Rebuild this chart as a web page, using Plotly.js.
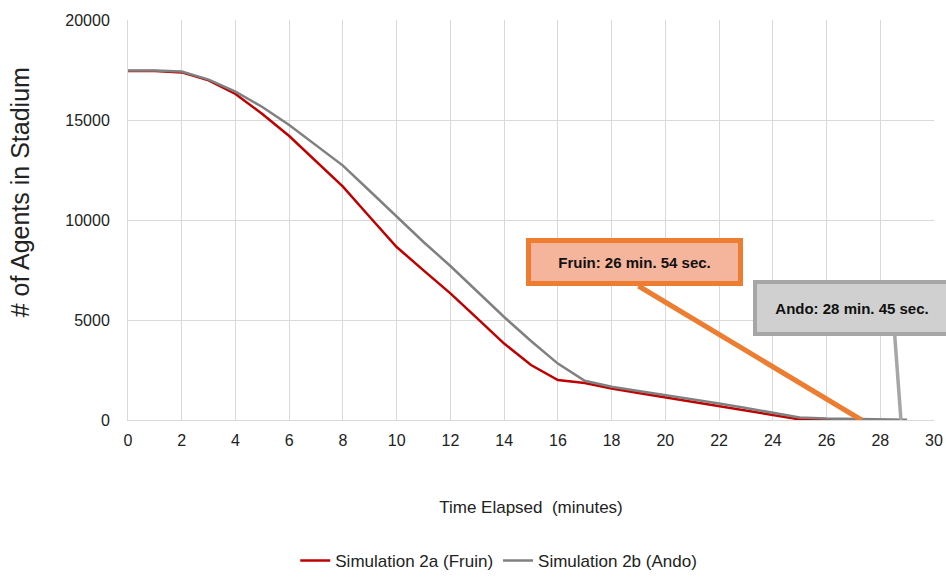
<!DOCTYPE html>
<html>
<head>
<meta charset="utf-8">
<script src="https://cdn.plot.ly/plotly-3.0.1.min.js"></script>
<style>
  html, body { margin: 0; padding: 0; background: #fff; }
  #chart { width: 946px; height: 577px; }
</style>
</head>
<body>
<div id="chart"></div>
<script>
// Time in minutes
const minutesFruin = [0,1,2,3,4,5,6,7,8,9,10,11,12,13,14,15,16,17,18,19,20,21,22,23,24,25,26,27];
const agentsFruin  = [17450,17450,17380,16980,16300,15300,14200,12950,11670,10150,8650,7480,6330,5080,3820,2750,2000,1850,1580,1350,1130,920,720,480,250,30,20,10];

const minutesAndo = [0,1,2,3,4,5,6,7,8,9,10,11,12,13,14,15,16,17,18,19,20,21,22,23,24,25,26,27,28,29];
const agentsAndo  = [17480,17470,17420,17020,16420,15650,14750,13750,12720,11450,10150,8900,7700,6420,5150,3950,2820,1960,1660,1450,1250,1050,830,600,370,120,70,55,40,10];

const seriesNames = ["Simulation 2a (Fruin)", "Simulation 2b (Ando)"];
const xTickVals = [0,2,4,6,8,10,12,14,16,18,20,22,24,26,28,30];
const yTickVals = [0,5000,10000,15000,20000];

const calloutFruin = {label: "Fruin: 26 min. 54 sec.", boxX: 18.85, boxY: 7900, tailX: 19.0, tailY: 6700, headX: 27.3, headY: 0};
const calloutAndo  = {label: "Ando: 28 min. 45 sec.", boxX: 26.95, boxY: 5600, tailX: 28.54, tailY: 4200, headX: 28.77, headY: 0};

const sans = "Liberation Sans, Arial, sans-serif";
// leading blank space (kept from trimming by a zero-width space) lifts the rotated title like the reference
const pad = "\u200B" + "\u00a0".repeat(8);

const traces = [
  {x: minutesFruin, y: agentsFruin, name: seriesNames[0], type: "scatter", mode: "lines",
   line: {color: "#C00000", width: 2.5}},
  {x: minutesAndo, y: agentsAndo, name: seriesNames[1], type: "scatter", mode: "lines",
   line: {color: "#808080", width: 2.5}}
];

const layout = {
  width: 946, height: 577,
  paper_bgcolor: "#ffffff", plot_bgcolor: "#ffffff",
  margin: {l: 128, r: 12, t: 20, b: 157, autoexpand: false},
  font: {family: sans, size: 16, color: "#222"},
  showlegend: true,
  legend: {orientation: "h", x: 0.46, xanchor: "center", y: -0.3525, yanchor: "middle",
           font: {family: sans, size: 17, color: "#222"}, itemwidth: 30, traceorder: "normal"},
  xaxis: {
    range: [0, 30], tickvals: xTickVals, ticktext: xTickVals.map(String),
    showgrid: true, gridcolor: "#d9d9d9", gridwidth: 1,
    zeroline: false, showline: true, linecolor: "#d9d9d9", linewidth: 1,
    ticks: "", ticklabelstandoff: 6,
    tickfont: {family: sans, size: 16, color: "#222"},
    title: {text: "Time Elapsed\u00a0 (minutes)", standoff: 52, font: {family: sans, size: 17, color: "#222"}}
  },
  yaxis: {
    range: [0, 20000], tickvals: yTickVals, ticktext: yTickVals.map(String),
    showgrid: true, gridcolor: "#d9d9d9", gridwidth: 1,
    zeroline: false, showline: true, linecolor: "#d9d9d9", linewidth: 1,
    ticks: "", ticklabelstandoff: 14,
    tickfont: {family: sans, size: 16, color: "#222"},
    title: {text: pad + "# of Agents in Stadium", standoff: 28, font: {family: sans, size: 25, color: "#222"}}
  },
  shapes: [
    {type: "line", xref: "x", yref: "y", x0: calloutFruin.tailX, y0: calloutFruin.tailY,
     x1: calloutFruin.headX, y1: calloutFruin.headY, line: {color: "#ED7D31", width: 5}, layer: "above"},
    {type: "line", xref: "x", yref: "y", x0: calloutAndo.tailX, y0: calloutAndo.tailY,
     x1: calloutAndo.headX, y1: calloutAndo.headY, line: {color: "#A6A6A6", width: 3.5}, layer: "above"}
  ],
  annotations: [
    {xref: "x", yref: "y", x: calloutFruin.boxX, y: calloutFruin.boxY, text: "<b>" + calloutFruin.label + "</b>",
     showarrow: false, width: 207, height: 38, bgcolor: "#F5B49C", bordercolor: "#ED7D31", borderwidth: 5,
     borderpad: 0, font: {family: sans, size: 15, color: "#111"}},
    {xref: "x", yref: "y", x: calloutAndo.boxX, y: calloutAndo.boxY, text: "<b>" + calloutAndo.label + "</b>",
     showarrow: false, width: 190, height: 48, bgcolor: "#D0D0D0", bordercolor: "#A6A6A6", borderwidth: 4,
     borderpad: 0, font: {family: sans, size: 15, color: "#111"}}
  ]
};

Plotly.newPlot("chart", traces, layout, {displayModeBar: false, staticPlot: true});
</script>
</body>
</html>
